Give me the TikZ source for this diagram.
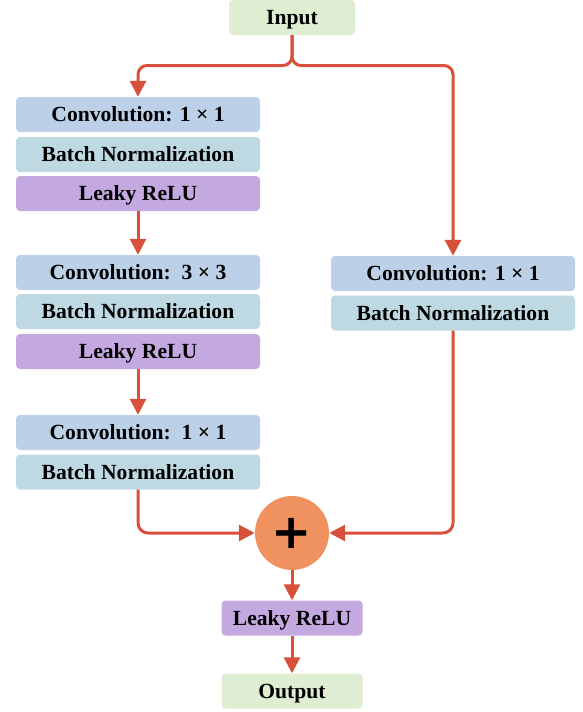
\documentclass[tikz,border=0pt]{standalone}
\usepackage{fontspec}
\setmainfont{Liberation Serif}
\newfontfamily\plusfont{DejaVu Sans}
\usetikzlibrary{arrows.meta}
\definecolor{ioGreen}{HTML}{DFEDD2}
\definecolor{convBlue}{HTML}{BCD0E8}
\definecolor{bnBlue}{HTML}{BFD9E3}
\definecolor{reluPurple}{HTML}{C3A9E0}
\definecolor{sumOrange}{HTML}{F09260}
\definecolor{flowRed}{HTML}{D9503A}
\tikzset{
  blk/.style={rounded corners=4pt, inner sep=0pt, text height=16pt, text depth=2pt,
    font=\fontsize{21.6}{24}\selectfont\bfseries, align=center},
  wide/.style={blk, minimum width=244pt, minimum height=35pt},
  narrow/.style={blk, minimum width=141pt, minimum height=35pt},
  conv/.style={wide, fill=convBlue},
  bn/.style={wide, fill=bnBlue},
  relu/.style={wide, fill=reluPurple},
  io/.style={narrow, fill=ioGreen},
  flow/.style={draw=flowRed, line width=3pt, -{Triangle[length=16pt,width=16pt]}},
}
\begin{document}
\begin{tikzpicture}[x=1pt,y=-1pt]
\useasboundingbox (0,0) rectangle (582,712);

% input
\node[io, minimum width=126pt] (inp) at (292,17.5) {Input};

% main branch
\node[conv] (c1) at (138,114.5) {Convolution: 1 × 1};
\node[bn]   (b1) at (138,154.5) {Batch Normalization};
\node[relu] (r1) at (138,193.5) {Leaky ReLU};

\node[conv] (c2) at (138,272.5) {Convolution:\ \ 3 × 3};
\node[bn]   (b2) at (138,311.5) {Batch Normalization};
\node[relu] (r2) at (138,351.5) {Leaky ReLU};

\node[conv] (c3) at (138,432.5) {Convolution:\ \ 1 × 1};
\node[bn]   (b3) at (138,472) {Batch Normalization};

% shortcut branch
\node[conv] (sc) at (453,273.5) {Convolution: 1 × 1};
\node[bn]   (sb) at (453,313) {Batch Normalization};

% sum and output
\node[circle, fill=sumOrange, minimum size=74pt, inner sep=0pt,
      font=\plusfont\bfseries\fontsize{48}{48}\selectfont] (sum) at (292,533) {+};
\node[narrow, fill=reluPurple] (r4) at (292,618) {Leaky ReLU};
\node[io] (out) at (292,691) {Output};

% connectors
\coordinate (split) at (292,65.5);
\draw[flow, rounded corners=9pt] (inp.south) -- (split) -| (c1.north);
\draw[flow, rounded corners=9pt] (inp.south) -- (split) -| (sc.north);
\draw[flow] (r1.south) -- (c2.north);
\draw[flow] (r2.south) -- (c3.north);
\draw[flow, rounded corners=10pt] (b3.south) |- (sum.west);
\draw[flow, rounded corners=10pt] (sb.south) |- (sum.east);
\draw[flow] (sum.south) -- (r4.north);
\draw[flow] (r4.south) -- (out.north);
\end{tikzpicture}
\end{document}
